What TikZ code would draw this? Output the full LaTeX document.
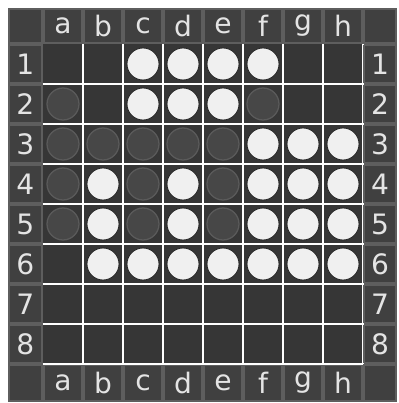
\documentclass[tikz,border=0pt]{standalone}
\usepackage{fontspec}
\setsansfont{DejaVu Sans}
\usetikzlibrary{positioning}
\definecolor{framebg}{HTML}{5E5E5E}
\definecolor{tilebg}{HTML}{404040}
\definecolor{boardbg}{HTML}{363636}
\definecolor{discgray}{HTML}{474747}
\definecolor{ringgray}{HTML}{5A5A5A}
\definecolor{labelgray}{HTML}{E4E4E4}

\begin{document}
\begin{tikzpicture}[
    x=1cm, y=-1cm,
    wdisc/.style={circle, draw=black!85, fill=gray!12, line width=0.6pt, minimum size=0.8cm, inner sep=0pt},
    bdisc/.style={circle, draw=ringgray, fill=discgray, line width=0.9pt, minimum size=0.8cm, inner sep=0pt},
    tile/.style={draw=framebg, fill=tilebg, line width=0.8pt, minimum width=0.94cm, minimum height=0.84cm, inner sep=0pt,
                 font=\sffamily\fontsize{20}{20}\selectfont, text=labelgray},
    sidetile/.style={tile, minimum width=#1, minimum height=0.94cm},
    gridline/.style={draw=white, line width=1.4pt},
]
\useasboundingbox (-1.075,-1.1) rectangle (8.875,8.975);
\fill[white] (-1.075,-1.1) rectangle (8.875,8.975);

% frame and playing field
\fill[framebg] (-0.875,-0.9) rectangle (8.85,8.95);
\fill[boardbg] (0,0) rectangle (8,8);
\foreach \k in {1,...,8} {
  \draw[gridline] (\k,0) -- (\k,8);
  \draw[gridline] (0,\k) -- (8,\k);
}

% corner tiles
\node[sidetile=0.82cm, minimum height=0.84cm] (tl) at (-0.44,-0.45) {};
\node[sidetile=0.8cm, minimum height=0.84cm] (tr) at (8.425,-0.45) {};
\node[sidetile=0.82cm, minimum height=0.88cm] (bl) at (-0.44,8.475) {};
\node[sidetile=0.8cm, minimum height=0.88cm] (br) at (8.425,8.475) {};

% column letters, top
\node[tile] (ta) at (0.5,-0.45) {a};
\node[tile] (tb) at (1.5,-0.45) {b};
\node[tile] (tc) at (2.5,-0.45) {c};
\node[tile] (td) at (3.5,-0.45) {d};
\node[tile] (te) at (4.5,-0.45) {e};
\node[tile] (tf) at (5.5,-0.45) {f};
\node[tile] (tg) at (6.5,-0.45) {g};
\node[tile] (th) at (7.5,-0.45) {h};

% column letters, bottom
\node[tile, minimum height=0.88cm] (ba) at (0.5,8.475) {a};
\node[tile, minimum height=0.88cm] (bb) at (1.5,8.475) {b};
\node[tile, minimum height=0.88cm] (bc) at (2.5,8.475) {c};
\node[tile, minimum height=0.88cm] (bd) at (3.5,8.475) {d};
\node[tile, minimum height=0.88cm] (be) at (4.5,8.475) {e};
\node[tile, minimum height=0.88cm] (bf) at (5.5,8.475) {f};
\node[tile, minimum height=0.88cm] (bg) at (6.5,8.475) {g};
\node[tile, minimum height=0.88cm] (bh) at (7.5,8.475) {h};

% row numbers, left
\node[sidetile=0.82cm] (l1) at (-0.44,0.5) {1};
\node[sidetile=0.82cm] (l2) at (-0.44,1.5) {2};
\node[sidetile=0.82cm] (l3) at (-0.44,2.5) {3};
\node[sidetile=0.82cm] (l4) at (-0.44,3.5) {4};
\node[sidetile=0.82cm] (l5) at (-0.44,4.5) {5};
\node[sidetile=0.82cm] (l6) at (-0.44,5.5) {6};
\node[sidetile=0.82cm] (l7) at (-0.44,6.5) {7};
\node[sidetile=0.82cm] (l8) at (-0.44,7.5) {8};

% row numbers, right
\node[sidetile=0.8cm] (r1) at (8.425,0.5) {1};
\node[sidetile=0.8cm] (r2) at (8.425,1.5) {2};
\node[sidetile=0.8cm] (r3) at (8.425,2.5) {3};
\node[sidetile=0.8cm] (r4) at (8.425,3.5) {4};
\node[sidetile=0.8cm] (r5) at (8.425,4.5) {5};
\node[sidetile=0.8cm] (r6) at (8.425,5.5) {6};
\node[sidetile=0.8cm] (r7) at (8.425,6.5) {7};
\node[sidetile=0.8cm] (r8) at (8.425,7.5) {8};

% row 1
\node[wdisc] (c1) at (2.5,0.5) {};
\node[wdisc] (d1) at (3.5,0.5) {};
\node[wdisc] (e1) at (4.5,0.5) {};
\node[wdisc] (f1) at (5.5,0.5) {};

% row 2
\node[bdisc] (a2) at (0.5,1.5) {};
\node[wdisc] (c2) at (2.5,1.5) {};
\node[wdisc] (d2) at (3.5,1.5) {};
\node[wdisc] (e2) at (4.5,1.5) {};
\node[bdisc] (f2) at (5.5,1.5) {};

% row 3
\node[bdisc] (a3) at (0.5,2.5) {};
\node[bdisc] (b3) at (1.5,2.5) {};
\node[bdisc] (c3) at (2.5,2.5) {};
\node[bdisc] (d3) at (3.5,2.5) {};
\node[bdisc] (e3) at (4.5,2.5) {};
\node[wdisc] (f3) at (5.5,2.5) {};
\node[wdisc] (g3) at (6.5,2.5) {};
\node[wdisc] (h3) at (7.5,2.5) {};

% row 4
\node[bdisc] (a4) at (0.5,3.5) {};
\node[wdisc] (b4) at (1.5,3.5) {};
\node[bdisc] (c4) at (2.5,3.5) {};
\node[wdisc] (d4) at (3.5,3.5) {};
\node[bdisc] (e4) at (4.5,3.5) {};
\node[wdisc] (f4) at (5.5,3.5) {};
\node[wdisc] (g4) at (6.5,3.5) {};
\node[wdisc] (h4) at (7.5,3.5) {};

% row 5
\node[bdisc] (a5) at (0.5,4.5) {};
\node[wdisc] (b5) at (1.5,4.5) {};
\node[bdisc] (c5) at (2.5,4.5) {};
\node[wdisc] (d5) at (3.5,4.5) {};
\node[bdisc] (e5) at (4.5,4.5) {};
\node[wdisc] (f5) at (5.5,4.5) {};
\node[wdisc] (g5) at (6.5,4.5) {};
\node[wdisc] (h5) at (7.5,4.5) {};

% row 6
\node[wdisc] (b6) at (1.5,5.5) {};
\node[wdisc] (c6) at (2.5,5.5) {};
\node[wdisc] (d6) at (3.5,5.5) {};
\node[wdisc] (e6) at (4.5,5.5) {};
\node[wdisc] (f6) at (5.5,5.5) {};
\node[wdisc] (g6) at (6.5,5.5) {};
\node[wdisc] (h6) at (7.5,5.5) {};

\end{tikzpicture}
\end{document}
